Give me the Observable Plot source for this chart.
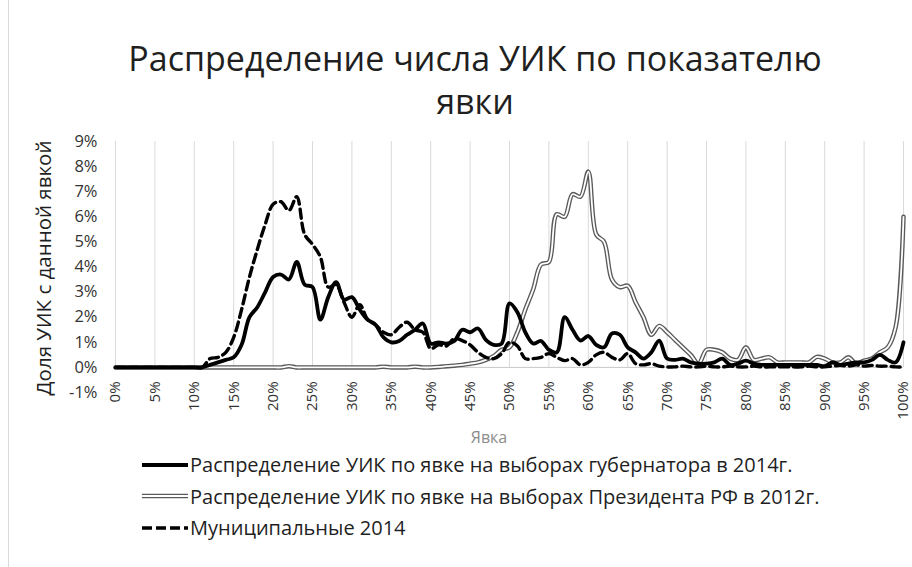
<!DOCTYPE html>
<html><head><meta charset="utf-8">
<script src="https://cdn.jsdelivr.net/npm/d3@7"></script>
<script src="https://cdn.jsdelivr.net/npm/@observablehq/plot@0.6"></script>
<style>
body{margin:0;background:#fff;font-family:"Open Sans",sans-serif;}
#wrap{position:relative;width:912px;height:567px;overflow:hidden;background:#fff;}
#border{position:absolute;left:8px;top:0;width:0;height:567px;border-left:1px solid #d9d9d9;}
#title{position:absolute;left:25px;top:37px;width:900px;text-align:center;font-size:34px;line-height:43px;color:#1f1f1f;}
#ylab{position:absolute;left:43px;top:268px;transform:translate(-50%,-50%) rotate(-90deg);white-space:nowrap;font-size:20.5px;color:#1f1f1f;}
#xlab{position:absolute;left:489px;top:437px;transform:translate(-50%,-50%);font-size:16px;color:#8c8c8c;}
#chart{position:absolute;left:0;top:125px;}
#legend{position:absolute;left:142px;top:449px;font-size:20px;color:#1f1f1f;}
.row{height:31.5px;display:flex;align-items:center;white-space:nowrap;}
.row svg{margin-right:2px;}
</style></head>
<body>
<div id="wrap">
  <div id="border"></div>
  <div id="title">Распределение числа УИК по показателю<br>явки</div>
  <div id="ylab">Доля УИК с данной явкой</div>
  <div id="chart"></div>
  <div id="xlab">Явка</div>
  <div id="legend"></div>
</div>
<script>
// Turnout categories (%)
const turnout = [0,1,2,3,4,5,6,7,8,9,10,11,12,13,14,15,16,17,18,19,20,21,22,23,24,25,26,27,28,29,30,31,32,33,34,35,36,37,38,39,40,41,42,43,44,45,46,47,48,49,50,51,52,53,54,55,56,57,58,59,60,61,62,63,64,65,66,67,68,69,70,71,72,73,74,75,76,77,78,79,80,81,82,83,84,85,86,87,88,89,90,91,92,93,94,95,96,97,98,99,100];

// Share of polling stations (%), governor election 2014
const governor2014 = [0,0,0,0,0,0,0,0,0,0, 0,0,0.1,0.2,0.3,0.4,0.9,2.0,2.4,3.0, 3.6,3.7,3.5,4.2,3.3,3.2,1.9,2.8,3.4,2.7, 2.8,2.3,1.9,1.7,1.2,1.0,1.05,1.3,1.5,1.75, 0.95,1.0,0.95,1.05,1.5,1.4,1.55,1.1,0.9,0.95, 2.55,2.2,1.4,0.95,1.05,0.7,0.6,2.0,1.5,1.07, 1.25,0.9,0.8,1.35,1.3,0.8,0.6,0.35,0.6,1.07, 0.35,0.3,0.35,0.2,0.15,0.15,0.2,0.35,0.1,0.15, 0.27,0.15,0.1,0.1,0.1,0.1,0.1,0.1,0.1,0.1, 0.05,0.2,0.1,0.15,0.2,0.2,0.3,0.5,0.3,0.2, 1.0];

// Presidential election 2012
const president2012 = [0,0,0,0,0,0,0,0,0,0, 0,0,0,0,0,0,0,0,0,0, 0,0,0.05,0,0,0,0,0,0,0, 0,0,0,0,0.03,0,0,0,0.03,0, 0,0.02,0.05,0.07,0.1,0.15,0.2,0.3,0.45,0.7, 0.8,1.4,2.3,3.1,4.1,4.2,6.1,6.0,6.9,6.8, 7.8,5.3,5.0,3.5,3.2,3.25,2.6,2.0,1.3,1.65, 1.4,1.1,0.8,0.5,0.15,0.7,0.7,0.6,0.35,0.3, 0.8,0.3,0.35,0.4,0.2,0.2,0.2,0.2,0.2,0.42, 0.35,0.2,0.2,0.4,0.15,0.27,0.35,0.6,0.8,1.6, 6.0];

// Municipal elections 2014
const municipal2014 = [0,0,0,0,0,0,0,0,0,0, 0,0,0.35,0.4,0.6,1.2,2.3,3.6,4.7,5.7, 6.5,6.6,6.25,6.8,5.3,4.9,4.4,3.2,3.3,2.6, 2.0,2.5,1.9,1.7,1.4,1.3,1.6,1.8,1.5,1.4, 0.75,0.9,0.85,1.15,1.07,0.9,0.6,0.4,0.35,0.55, 1.0,0.85,0.35,0.35,0.4,0.55,0.4,0.27,0.35,0.1, 0.2,0.5,0.6,0.4,0.3,0.55,0.15,0.1,0.15,0.05, 0.02,0.02,0.05,0.02,0.02,0.05,0.02,0.02,0.05,0.02, 0.02,0.05,0.02,0.02,0.02,0.02,0.02,0.02,0.05,0.02, 0.02,0.05,0.08,0.05,0.1,0.05,0.08,0.05,0.05,0.02, 0.02];

const xTicks = [0,5,10,15,20,25,30,35,40,45,50,55,60,65,70,75,80,85,90,95,100];
const yTicks = [-1,0,1,2,3,4,5,6,7,8,9];

const seriesNames = [
  "Распределение УИК по явке на выборах губернатора в 2014г.",
  "Распределение УИК по явке на выборах Президента РФ в 2012г.",
  "Муниципальные 2014"
];

const rows = turnout.map((t, i) => ({t, gov: governor2014[i], pres: president2012[i], mun: municipal2014[i]}));
const curve = "catmull-rom";

const chart = Plot.plot({
  width: 912, height: 315,
  marginLeft: 115, marginRight: 9, marginTop: 16, marginBottom: 48,
  x: {domain: [0, 100], axis: null},
  y: {domain: [-1, 9], axis: null},
  style: {fontFamily: "Open Sans", background: "transparent", overflow: "visible"},
  marks: [
    Plot.ruleX(xTicks, {x: d => d, y1: () => 0, y2: () => 9, stroke: "#d9d9d9", strokeWidth: 1}),
    Plot.ruleY([0], {stroke: "#c8c8c8", strokeWidth: 1}),
    Plot.axisY(yTicks, {ticks: yTicks, tickFormat: d => d + "%", tickSize: 0, tickPadding: 18, fontSize: 16.5, color: "#333", label: null}),
    Plot.text(xTicks, {x: d => d, y: () => 0, text: d => d + "%", rotate: -90, textAnchor: "end", lineAnchor: "middle", dy: 14, fontSize: 15, fill: "#333"}),
    Plot.line(rows, {x: "t", y: "pres", stroke: "#5a5a5a", strokeWidth: 4.5, curve}),
    Plot.line(rows, {x: "t", y: "pres", stroke: "#ffffff", strokeWidth: 1.8, curve}),
    Plot.line(rows, {x: "t", y: "gov", stroke: "#000", strokeWidth: 3.8, curve}),
    Plot.line(rows, {x: "t", y: "mun", stroke: "#000", strokeWidth: 3.4, strokeDasharray: "9,5", curve})
  ]
});
document.getElementById("chart").appendChild(chart);

const swatches = [
  '<svg width="46" height="10"><line x1="0" y1="5" x2="46" y2="5" stroke="#000" stroke-width="4"/></svg>',
  '<svg width="46" height="10"><line x1="0" y1="5" x2="46" y2="5" stroke="#5a5a5a" stroke-width="4.5"/><line x1="0" y1="5" x2="46" y2="5" stroke="#fff" stroke-width="1.8"/></svg>',
  '<svg width="46" height="10"><line x1="0" y1="5" x2="46" y2="5" stroke="#000" stroke-width="3.5" stroke-dasharray="10,4"/></svg>'
];
document.getElementById("legend").innerHTML = seriesNames.map((n, i) =>
  `<div class="row">${swatches[i]}<span>${n}</span></div>`).join("");
</script>
</body></html>
